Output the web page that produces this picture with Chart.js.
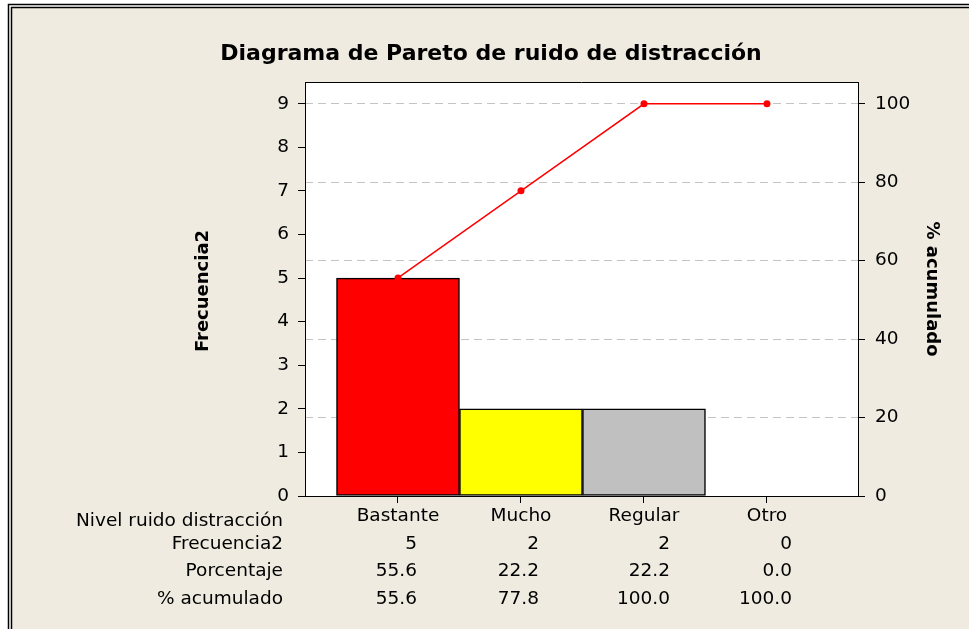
<!DOCTYPE html>
<html>
<head>
<meta charset="utf-8">
<script src="https://cdn.jsdelivr.net/npm/chart.js@4"></script>
<style>
  html, body { margin: 0; padding: 0; background: #fff; }
</style>
</head>
<body>
<canvas id="chart1" width="969" height="629"></canvas>
<script>
const categories = ["Bastante", "Mucho", "Regular", "Otro"];
const frecuencia = [5, 2, 2, 0];
const porcentaje = [55.6, 22.2, 22.2, 0.0];
const acumulado = [55.6, 77.8, 100.0, 100.0];
const freqTicks = [0, 1, 2, 3, 4, 5, 6, 7, 8, 9];
const pctTicks = [0, 20, 40, 60, 80, 100];
const rowLabels = ["Nivel ruido distracción", "Frecuencia2", "Porcentaje", "% acumulado"];
const barColors = ['#ff0000', '#ffff00', '#c0c0c0', '#ffffff'];

const FONT = '"DejaVu Sans", sans-serif';
const beige = '#efebe1';
const freqMax = 9.5;
const pctMax = freqMax / 9 * 100;
const colNudge = [19, 18, 26, 25];

const framePlugin = {
    id: 'frame',
    beforeDraw(chart) {
        const ctx = chart.ctx;
        const w = chart.width, h = chart.height;
        const a = chart.chartArea;
        ctx.save();
        ctx.fillStyle = '#fff';
        ctx.fillRect(0, 0, w, h);
        ctx.fillStyle = beige;
        ctx.fillRect(12, 8, w, h);
        ctx.strokeStyle = '#000';
        ctx.lineWidth = 1.5;
        ctx.beginPath();
        ctx.moveTo(8.5, h); ctx.lineTo(8.5, 4.5); ctx.lineTo(w, 4.5);
        ctx.moveTo(11.5, h); ctx.lineTo(11.5, 7.5); ctx.lineTo(w, 7.5);
        ctx.stroke();
        ctx.fillStyle = '#fff';
        ctx.fillRect(a.left, a.top, a.right - a.left, a.bottom - a.top);
        ctx.restore();
    },
    afterDraw(chart) {
        const ctx = chart.ctx;
        const a = chart.chartArea;
        const xs = chart.scales.x;
        ctx.save();
        ctx.strokeStyle = '#000';
        ctx.lineWidth = 1;
        ctx.beginPath();
        ctx.moveTo(a.left, a.top + 0.5); ctx.lineTo(a.right, a.top + 0.5);
        ctx.stroke();

        ctx.fillStyle = '#000';
        ctx.font = 'bold 22px ' + FONT;
        ctx.textAlign = 'center';
        ctx.textBaseline = 'alphabetic';
        ctx.fillText('Diagrama de Pareto de ruido de distracción', 491, 60);

        ctx.font = 'bold 18px ' + FONT;
        ctx.textBaseline = 'middle';
        ctx.save();
        ctx.translate(203, 291);
        ctx.rotate(-Math.PI / 2);
        ctx.fillText('Frecuencia2', 0, 0);
        ctx.restore();
        ctx.save();
        ctx.translate(932, 289);
        ctx.rotate(Math.PI / 2);
        ctx.fillText('% acumulado', 0, 0);
        ctx.restore();

        ctx.font = '18.5px ' + FONT;
        ctx.textAlign = 'right';
        ctx.textBaseline = 'alphabetic';
        const baselines = [526, 549, 576, 604];
        rowLabels.forEach((t, r) => ctx.fillText(t, 283, baselines[r]));
        const rows = [
            frecuencia.map(v => String(v)),
            porcentaje.map(v => v.toFixed(1)),
            acumulado.map(v => v.toFixed(1))
        ];
        rows.forEach((vals, r) => {
            vals.forEach((t, i) => {
                const px = xs.getPixelForValue(i) + colNudge[i];
                ctx.fillText(t, px, baselines[r + 1]);
            });
        });
        ctx.restore();
    }
};

new Chart("chart1", {
    type: "bar",
    data: {
        datasets: [{
            type: 'line',
            data: acumulado.map((v, i) => ({ x: i, y: v })),
            yAxisID: 'y2',
            borderColor: '#ff0000',
            borderWidth: 1.5,
            pointRadius: 3.5,
            pointBackgroundColor: '#ff0000',
            pointBorderWidth: 0,
            tension: 0,
            order: 0
        }, {
            type: 'bar',
            data: frecuencia.map((v, i) => ({ x: i, y: v })),
            yAxisID: 'y',
            backgroundColor: barColors,
            borderColor: '#000',
            borderWidth: 1.5,
            borderSkipped: false,
            barPercentage: 1,
            categoryPercentage: 1,
            order: 1
        }]
    },
    options: {
        responsive: false,
        animation: false,
        layout: { padding: { left: 0, right: 0, top: 82, bottom: 0 } },
        plugins: {
            legend: { display: false },
            tooltip: { enabled: false },
            title: { display: false }
        },
        scales: {
            x: {
                type: 'linear',
                position: 'bottom',
                offset: false,
                min: -0.756,
                max: 3.74,
                afterBuildTicks: s => { s.ticks = categories.map((c, i) => ({ value: i })); },
                afterFit: s => { s.height = 133; },
                ticks: {
                    callback: v => categories[v],
                    color: '#000',
                    font: { family: FONT, size: 18.5 },
                    padding: 2,
                    maxRotation: 0,
                    autoSkip: false
                },
                grid: { offset: false, drawOnChartArea: false, tickLength: 7, tickColor: '#000', color: '#000' },
                border: { color: '#000', width: 1 }
            },
            y: {
                position: 'left',
                min: 0,
                max: freqMax,
                afterBuildTicks: s => { s.ticks = freqTicks.map(v => ({ value: v })); },
                afterFit: s => { s.width = 305; },
                ticks: {
                    color: '#000',
                    font: { family: FONT, size: 18.5 },
                    padding: 9
                },
                grid: { drawOnChartArea: false, tickLength: 7, tickColor: '#000', color: '#000' },
                border: { color: '#000', width: 1 }
            },
            y2: {
                position: 'right',
                min: 0,
                max: pctMax,
                afterBuildTicks: s => { s.ticks = pctTicks.map(v => ({ value: v })); },
                afterFit: s => { s.width = 111; },
                ticks: {
                    color: '#000',
                    font: { family: FONT, size: 18.5 },
                    padding: 10
                },
                grid: {
                    drawOnChartArea: true,
                    tickLength: 7,
                    tickColor: '#000',
                    color: c => (c.tick && c.tick.value === 0) ? 'rgba(0,0,0,0)' : '#c4c4c4'
                },
                border: { color: '#000', width: 1, dash: [8, 5] }
            }
        }
    },
    plugins: [framePlugin]
});
</script>
</body>
</html>
